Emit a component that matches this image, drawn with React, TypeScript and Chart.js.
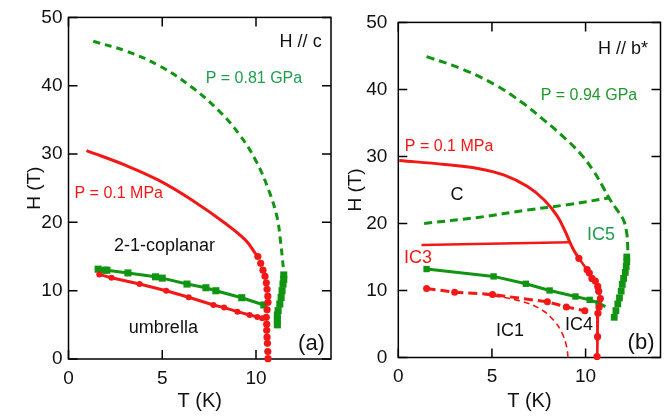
import React, { useEffect, useRef } from 'react';
import { Chart, registerables } from 'chart.js';

Chart.register(...registerables);

const RED = '#f21818';
const GREEN = '#119411';
const GREEN_TEXT = '#1f9d4f';
const BLACK = '#111111';
const FONT = '"Liberation Sans", Arial, Helvetica, sans-serif';

// ---------- Panel (a): H // c ----------
// P = 0.1 MPa, upper transition (2-1-coplanar -> high field)
const aHighT = [0.96, 3.09, 4.85, 6.62, 8.39, 9.44, 9.98, 10.1];
const aHighH = [30.5, 28.3, 26.1, 23.2, 19.8, 17.4, 15.4, 15.0];
// P = 0.1 MPa, ordering edge near TN
const aEdgeT = [10.1, 10.25, 10.37, 10.48, 10.55, 10.59, 10.63, 10.64, 10.59, 10.55, 10.57, 10.57, 10.59, 10.61, 10.63, 10.64];
const aEdgeH = [15.0, 14.0, 13.0, 12.1, 11.15, 10.2, 9.2, 8.3, 7.2, 6.1, 5.1, 4.2, 3.2, 2.3, 1.1, 0.05];
// P = 0.1 MPa, umbrella -> 2-1-coplanar
const aLowT = [1.64, 2.29, 3.79, 5.21, 6.41, 7.73, 8.3, 9.01, 9.66, 10.07, 10.33];
const aLowH = [12.38, 11.88, 10.97, 9.99, 9.03, 7.91, 7.52, 6.93, 6.45, 6.16, 5.97];
// P = 0.81 GPa, umbrella -> 2-1-coplanar
const aGpaLowT = [1.58, 1.93, 2.05, 3.17, 4.64, 5.0, 6.32, 7.33, 7.86, 9.24, 10.42];
const aGpaLowH = [13.15, 13.0, 13.0, 12.6, 12.03, 11.84, 10.97, 10.43, 9.99, 8.97, 7.91];
// P = 0.81 GPa, ordering edge
const aGpaEdgeT = [11.48, 11.48, 11.44, 11.39, 11.34, 11.27, 11.18, 11.14, 11.14, 11.14];
const aGpaEdgeH = [12.3, 11.65, 10.97, 10.0, 9.0, 8.05, 7.08, 6.45, 5.72, 5.0];
// P = 0.81 GPa, extrapolated upper boundary
const aGpaHighT = [1.32, 3.09, 4.85, 6.62, 8.03, 9.1, 9.98, 10.68, 11.12, 11.3, 11.48];
const aGpaHighH = [46.5, 45.05, 42.9, 39.7, 36.3, 32.9, 29.1, 24.7, 20.8, 17.4, 12.76];

// ---------- Panel (b): H // b* ----------
// P = 0.1 MPa, C phase boundary
const bHighT = [0.05, 2.48, 4.24, 5.66, 6.9, 7.79, 8.49, 8.93, 9.16, 9.37, 9.64];
const bHighH = [29.4, 28.8, 28.2, 27.2, 25.5, 23.5, 21.1, 18.7, 17.2, 16.0, 14.8];
// P = 0.1 MPa, IC3 / C boundary
const bMidT = [1.24, 9.16];
const bMidH = [16.8, 17.2];
// P = 0.1 MPa, ordering edge
const bEdgeT = [9.64, 10.08, 10.2, 10.34, 10.52, 10.65, 10.7, 10.79, 10.72, 10.66, 10.64, 10.61];
const bEdgeH = [14.8, 13.1, 12.6, 11.8, 11.4, 10.6, 9.9, 8.8, 7.5, 6.6, 3.1, 0.15];
// P = 0.1 MPa, IC1/IC4 -> IC3
const bLowT = [1.51, 3.01, 5.03, 7.96, 8.97, 9.96];
const bLowH = [10.3, 9.75, 9.4, 8.3, 7.55, 6.97];
// P = 0.1 MPa, IC1 / IC4 boundary
const bSplitT = [4.6, 5.13, 6.55, 7.61, 8.31, 8.75, 8.99, 9.06];
const bSplitH = [9.4, 9.2, 8.4, 7.2, 5.5, 3.6, 1.6, 0.1];
// P = 0.94 GPa, low-field transition
const bGpaLowT = [1.51, 5.09, 6.81, 8.08, 9.46, 10.22, 10.7, 11.06];
const bGpaLowH = [13.2, 12.1, 11.0, 10.0, 9.1, 8.6, 8.1, 7.6];
// P = 0.94 GPa, ordering edge
const bGpaEdgeT = [12.2, 12.2, 12.17, 12.12, 12.03, 11.96, 11.9, 11.81, 11.72, 11.62, 11.53];
const bGpaEdgeH = [15.0, 14.3, 13.6, 12.7, 11.8, 10.9, 9.9, 8.9, 8.0, 7.0, 6.0];
// P = 0.94 GPa, extrapolated upper boundary
const bGpaHighT = [1.51, 3.45, 5.22, 6.63, 7.7, 8.67, 9.73, 10.43, 10.9, 11.25, 11.66, 12.01, 12.19, 12.25, 12.25];
const bGpaHighH = [44.9, 43.0, 40.6, 38.0, 35.6, 33.3, 30.4, 27.8, 25.6, 23.8, 22.1, 20.6, 18.7, 16.5, 15.0];
// P = 0.94 GPa, C / IC5 boundary
const bGpaMidT = [1.38, 4.24, 6.9, 9.02, 11.25];
const bGpaMidH = [20.0, 20.9, 22.0, 22.8, 23.8];

const T_MIN = 0;
const T_MAX = 14;
const H_MIN = 0;
const H_MAX = 50;

type Note = { text: string; t: number; h: number; color: string; size: number; align?: CanvasTextAlign };

const notesA: Note[] = [
  { text: 'H // c', t: 13.5, h: 46.4, color: BLACK, size: 18, align: 'right' },
  { text: 'P = 0.81 GPa', t: 9.89, h: 41.0, color: GREEN_TEXT, size: 16 },
  { text: 'P = 0.1 MPa', t: 2.68, h: 24.2, color: RED, size: 16 },
  { text: '2-1-coplanar', t: 5.12, h: 16.5, color: BLACK, size: 18 },
  { text: 'umbrella', t: 5.06, h: 4.56, color: BLACK, size: 18 },
  { text: '(a)', t: 12.96, h: 2.23, color: BLACK, size: 22 },
];

const notesB: Note[] = [
  { text: 'H // b*', t: 13.33, h: 46.0, color: BLACK, size: 18, align: 'right' },
  { text: 'P = 0.94 GPa', t: 10.18, h: 39.1, color: '#22992f', size: 16 },
  { text: 'P = 0.1 MPa', t: 2.71, h: 31.5, color: RED, size: 16 },
  { text: 'C', t: 3.13, h: 24.3, color: BLACK, size: 18 },
  { text: 'IC5', t: 10.82, h: 18.2, color: GREEN_TEXT, size: 18 },
  { text: 'IC3', t: 1.05, h: 14.9, color: RED, size: 18 },
  { text: 'IC1', t: 5.96, h: 3.9, color: BLACK, size: 18 },
  { text: 'IC4', t: 9.65, h: 4.9, color: BLACK, size: 18 },
  { text: '(b)', t: 12.96, h: 2.16, color: BLACK, size: 22 },
];

const pts = (ts: number[], hs: number[]) => ts.map((t, i) => ({ x: t, y: hs[i] }));

function curve(ts: number[], hs: number[], color: string, width: number, dash: number[] = [], tension = 0.4) {
  return {
    data: pts(ts, hs),
    showLine: true,
    borderColor: color,
    backgroundColor: color,
    borderWidth: width,
    borderDash: dash,
    pointRadius: 0,
    pointHoverRadius: 0,
    tension,
    clip: false as const,
  };
}

function marks(ts: number[], hs: number[], color: string, style: string, r: number | number[], lineWidth = 0, dash: number[] = []) {
  return {
    data: pts(ts, hs),
    showLine: lineWidth > 0,
    borderColor: color,
    backgroundColor: color,
    borderWidth: lineWidth,
    borderDash: dash,
    pointStyle: style,
    pointRadius: r,
    pointBackgroundColor: color,
    pointBorderWidth: 0,
    tension: 0,
    clip: false as const,
  };
}

const framePlugin = {
  id: 'frame',
  beforeDatasetsDraw(chart: any) {
    const { ctx, chartArea: a, scales } = chart;
    const x = scales.x;
    const y = scales.y;
    const L = 9;
    ctx.save();
    ctx.strokeStyle = '#000';
    ctx.lineWidth = 1.5;
    ctx.strokeRect(a.left, a.top, a.right - a.left, a.bottom - a.top);
    ctx.beginPath();
    x.ticks.forEach((tk: any) => {
      const px = x.getPixelForValue(tk.value);
      ctx.moveTo(px, a.bottom);
      ctx.lineTo(px, a.bottom - L);
      ctx.moveTo(px, a.top);
      ctx.lineTo(px, a.top + L);
    });
    y.ticks.forEach((tk: any) => {
      const py = y.getPixelForValue(tk.value);
      ctx.moveTo(a.left, py);
      ctx.lineTo(a.left + L, py);
      ctx.moveTo(a.right, py);
      ctx.lineTo(a.right - L, py);
    });
    ctx.stroke();
    ctx.restore();
  },
};

const notesPlugin = {
  id: 'notes',
  afterDatasetsDraw(chart: any, _args: any, opts: any) {
    const { ctx, scales } = chart;
    ctx.save();
    ctx.textBaseline = 'middle';
    (opts.items as Note[]).forEach((n) => {
      ctx.font = `${n.size}px ${FONT}`;
      ctx.fillStyle = n.color;
      ctx.textAlign = n.align ?? 'center';
      ctx.fillText(n.text, scales.x.getPixelForValue(n.t), scales.y.getPixelForValue(n.h));
    });
    ctx.restore();
  },
};

type PanelLayout = {
  yAxisWidth: number;
  xAxisHeight: number;
  right: number;
  top: number;
  yTitleOffset: number;
  yTickPad: number;
};

function makeConfig(datasets: any[], notes: Note[], lay: PanelLayout) {
  const tickFont = { family: FONT, size: 19 };
  return {
    type: 'scatter' as const,
    data: { datasets },
    plugins: [framePlugin, notesPlugin],
    options: {
      animation: false as const,
      responsive: false,
      maintainAspectRatio: false,
      events: [],
      layout: { padding: { left: 0, right: lay.right, top: lay.top, bottom: 0 } },
      plugins: {
        legend: { display: false },
        tooltip: { enabled: false },
        notes: { items: notes },
      },
      scales: {
        x: {
          type: 'linear' as const,
          min: T_MIN,
          max: T_MAX,
          grid: { display: false, drawTicks: false },
          border: { display: false },
          ticks: { stepSize: 5, includeBounds: false, color: BLACK, font: tickFont, padding: 8, maxRotation: 0 },
          title: { display: true, text: 'T (K)', color: BLACK, font: { family: FONT, size: 20 }, padding: { top: 0, bottom: 3 } },
          afterFit: (s: any) => { s.height = lay.xAxisHeight; },
        },
        y: {
          type: 'linear' as const,
          min: H_MIN,
          max: H_MAX,
          grid: { display: false, drawTicks: false },
          border: { display: false },
          ticks: { stepSize: 10, color: BLACK, font: tickFont, padding: lay.yTickPad },
          title: { display: true, text: 'H (T)', color: BLACK, font: { family: FONT, size: 19 }, padding: { top: lay.yTitleOffset, bottom: 0 } },
          afterFit: (s: any) => { s.width = lay.yAxisWidth; },
        },
      },
    },
  };
}

const datasetsA = [
  curve(aGpaHighT, aGpaHighH, GREEN, 3, [7, 5]),
  curve(aHighT, aHighH, RED, 3),
  marks(aLowT, aLowH, RED, 'circle', 3, 3),
  marks(aEdgeT, aEdgeH, RED, 'circle', 3.6),
  marks(aGpaLowT, aGpaLowH, GREEN, 'rect', 5, 3),
  marks(aGpaEdgeT, aGpaEdgeH, GREEN, 'rect', 5),
];

const datasetsB = [
  curve(bGpaHighT, bGpaHighH, GREEN, 3, [8, 5]),
  curve(bGpaMidT, bGpaMidH, GREEN, 3, [8, 5]),
  curve(bHighT, bHighH, RED, 3),
  curve(bMidT, bMidH, RED, 2.5, [], 0),
  curve(bSplitT, bSplitH, RED, 1.6, [6, 4]),
  marks(bLowT, bLowH, RED, 'circle', 3.5, 3, [9, 5]),
  marks(bEdgeT, bEdgeH, RED, 'circle', 3.6, 2.5),
  marks(bGpaLowT, bGpaLowH, GREEN, 'rect', [4.5, 4.5, 4.5, 4.5, 4.5, 4.5, 4.5, 0], 3),
  marks(bGpaEdgeT, bGpaEdgeH, GREEN, 'rect', 4.8),
];

function Panel({ left, width, datasets, notes, lay }: { left: number; width: number; datasets: any[]; notes: Note[]; lay: PanelLayout }) {
  const ref = useRef<HTMLCanvasElement | null>(null);
  useEffect(() => {
    if (!ref.current) return;
    const chart = new Chart(ref.current, makeConfig(datasets, notes, lay) as any);
    return () => chart.destroy();
  }, []);
  return (
    <canvas
      ref={ref}
      width={width}
      height={416}
      style={{ position: 'absolute', left, top: 0, width, height: 416 }}
    />
  );
}

export default function App() {
  return (
    <div style={{ position: 'absolute', left: 0, top: 0, width: 668, height: 416, background: '#fff' }}>
      <Panel
        left={0}
        width={336}
        datasets={datasetsA}
        notes={notesA}
        lay={{ yAxisWidth: 68.5, xAxisHeight: 57, right: 3.5, top: 16, yTitleOffset: 23.6, yTickPad: 6 }}
      />
      <Panel
        left={336}
        width={332}
        datasets={datasetsB}
        notes={notesB}
        lay={{ yAxisWidth: 62.3, xAxisHeight: 58.5, right: 7.5, top: 16, yTitleOffset: 8.1, yTickPad: 11 }}
      />
    </div>
  );
}
